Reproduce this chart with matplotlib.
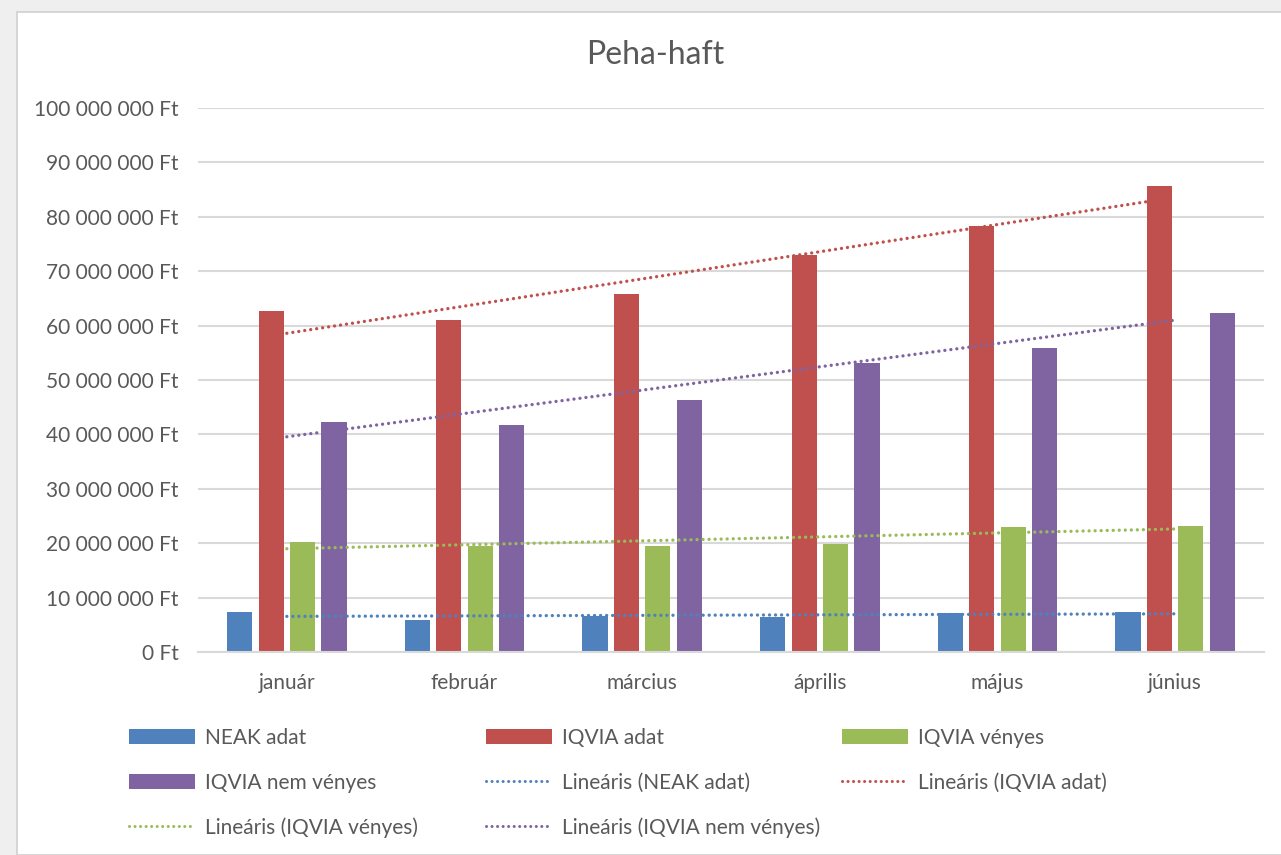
import numpy as np
import matplotlib
matplotlib.use("Agg")
import matplotlib.pyplot as plt
from matplotlib.patches import Rectangle, Patch
from matplotlib.lines import Line2D
from matplotlib.ticker import FuncFormatter, MultipleLocator

# Adatok (millió Ft, leolvasva az ábráról)
honapok = ["január", "február", "március", "április", "május", "június"]
neak_adat = [7.3, 5.9, 6.7, 6.4, 7.1, 7.3]
iqvia_adat = [62.6, 61.0, 65.8, 73.0, 78.4, 85.7]
iqvia_venyes = [20.2, 19.4, 19.4, 19.8, 22.9, 23.1]
iqvia_nem_venyes = [42.2, 41.7, 46.4, 53.2, 55.8, 62.4]

sorozat_nevek = ["NEAK adat", "IQVIA adat", "IQVIA vényes", "IQVIA nem vényes"]
szinek = ["#4f81bd", "#c0504d", "#9bbb59", "#8064a2"]

plt.rcParams['font.family'] = ['Lato', 'DejaVu Sans']
szurke = "#595959"
pontok = (0, (0.01, 1.8))  # kerek pöttyök

fig = plt.figure(figsize=(12.81, 8.55), dpi=100, facecolor="#efefef")
W, H = 1281, 855
# fehér diagramterület kerettel
fig.patches.append(Rectangle((17 / W, 0), 1, 1 - 12 / H, transform=fig.transFigure,
                             facecolor="white", edgecolor="#d0d0d0", linewidth=1.2, zorder=-5))

ax = fig.add_axes([198 / W, 1 - 652 / H, 1066 / W, 544 / H])
ax.set_facecolor("none")

x = np.arange(1, len(honapok) + 1)
lepes = 0.177
szelesseg = 0.141
adatok = [neak_adat, iqvia_adat, iqvia_venyes, iqvia_nem_venyes]
for i, (ertekek, nev, szin) in enumerate(zip(adatok, sorozat_nevek, szinek)):
    ax.bar(x + (i - 1.5) * lepes, np.array(ertekek) * 1e6, width=szelesseg,
           color=szin, label=nev, zorder=2)

# lineáris trendvonalak
for ertekek, szin in zip(adatok, szinek):
    m, b = np.polyfit(x, ertekek, 1)
    ax.plot(x, (m * x + b) * 1e6, color=szin, linewidth=2.4,
            linestyle=pontok, dash_capstyle="round", zorder=3)

ax.set_xlim(0.5, 6.5)
ax.set_ylim(0, 100e6)
ax.yaxis.set_major_locator(MultipleLocator(10e6))
ax.yaxis.set_major_formatter(FuncFormatter(lambda v, p: f"{int(round(v)):,}".replace(",", " ") + " Ft"))
ax.set_xticks(x)
ax.set_xticklabels(honapok)
ax.grid(axis="y", color="#d9d9d9", linewidth=1.5, zorder=0)
ax.set_axisbelow(True)
for s in ["top", "right", "left"]:
    ax.spines[s].set_visible(False)
ax.spines["bottom"].set_color("#d9d9d9")
ax.spines["bottom"].set_linewidth(1.5)
ax.tick_params(axis="both", length=0, labelsize=15, labelcolor=szurke)
ax.tick_params(axis="y", pad=14)
ax.tick_params(axis="x", pad=15)

fig.text(655 / W, 1 - 55 / H, "Peha-haft", ha="center", va="center",
         fontsize=23, color=szurke)

# jelmagyarázat, három oszlop egyenlő távolságra
def folt(szin):
    return Patch(facecolor=szin, edgecolor="none")

def pontozott(szin):
    return Line2D([], [], color=szin, linewidth=2.2, linestyle=pontok,
                  dash_capstyle="round")

elemek = [folt(c) for c in szinek] + [pontozott(c) for c in szinek]
cimkek = sorozat_nevek + [f"Lineáris ({n})" for n in sorozat_nevek]
oszlopok = [[0, 3, 6], [1, 4, 7], [2, 5]]
oszlop_x = [129, 486, 842]
for idx, ox in zip(oszlopok, oszlop_x):
    fig.legend([elemek[i] for i in idx], [cimkek[i] for i in idx],
               loc="upper left", bbox_to_anchor=(ox / W, 1 - 728 / H),
               frameon=False, fontsize=15, labelcolor=szurke,
               handlelength=3.15, handleheight=0.75, handletextpad=0.5,
               labelspacing=1.18, borderpad=0, borderaxespad=0)

fig.savefig("out.png", dpi=100, facecolor=fig.get_facecolor())
